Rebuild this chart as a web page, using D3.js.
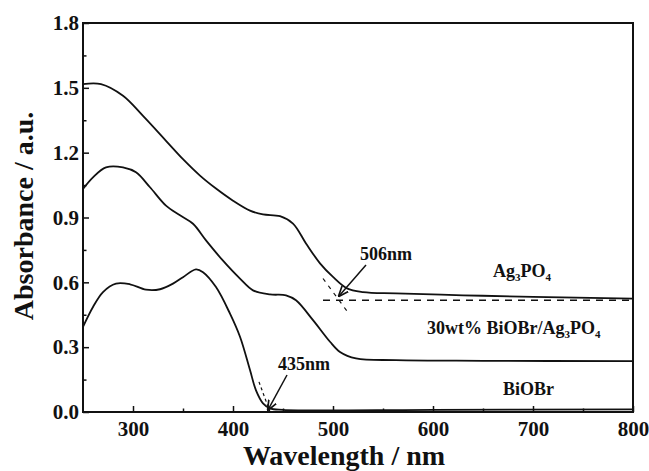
<!DOCTYPE html>
<html>
<head>
<meta charset="utf-8">
<script src="https://cdn.jsdelivr.net/npm/d3@7"></script>
<style>
  body { margin: 0; background: #fff; }
  svg text { font-family: "Liberation Serif", "Times New Roman", serif; font-weight: bold; fill: #111; }
</style>
</head>
<body>
<div id="chart"></div>
<script>
// 数据
var ag3po4Wl = [250, 268, 290, 310, 333, 350, 367, 383, 400, 417, 430, 447, 460, 473, 487, 500, 514, 530, 563, 630, 700, 800]
var ag3po4Abs = [1.517, 1.517, 1.463, 1.37, 1.255, 1.17, 1.094, 1.034, 0.978, 0.932, 0.914, 0.906, 0.872, 0.78, 0.688, 0.625, 0.572, 0.555, 0.549, 0.54, 0.533, 0.525]

var compositeWl = [250, 260, 273, 290, 303, 317, 333, 347, 360, 373, 390, 407, 420, 437, 453, 463, 480, 497, 507, 523, 563, 650, 800]
var compositeAbs = [1.032, 1.086, 1.132, 1.132, 1.109, 1.04, 0.955, 0.91, 0.871, 0.794, 0.70, 0.617, 0.563, 0.544, 0.540, 0.517, 0.425, 0.325, 0.278, 0.248, 0.24, 0.237, 0.235]

var biobrWl = [250, 260, 270, 283, 297, 313, 327, 340, 350, 363, 370, 383, 397, 407, 417, 423, 430, 437, 450, 600, 800]
var biobrAbs = [0.394, 0.486, 0.555, 0.594, 0.591, 0.566, 0.568, 0.594, 0.624, 0.66, 0.647, 0.578, 0.455, 0.348, 0.194, 0.10, 0.04, 0.017, 0.01, 0.01, 0.012]

var xTicks = [300, 400, 500, 600, 700, 800]
var yTicks = [0.0, 0.3, 0.6, 0.9, 1.2, 1.5, 1.8]

// 切线 (外推吸收边)
var edgeAg = { base: 0.517, edge: 506, slope: -0.0063, from: 490, to: 515 }
var edgeBi = { base: 0.0, edge: 435, slope: -0.0155, from: 426, to: 437 }

var width = 649, height = 471
var padding = { top: 23, left: 83, right: 16, bottom: 59 }

var svg = d3.select('#chart').append('svg')
  .attr('width', width)
  .attr('height', height)

var x = d3.scaleLinear().domain([250, 800]).range([padding.left, width - padding.right])
var y = d3.scaleLinear().domain([0, 1.8]).range([height - padding.bottom, padding.top])

// 坐标框
svg.append('rect')
  .attr('x', x(250)).attr('y', y(1.8))
  .attr('width', x(800) - x(250)).attr('height', y(0) - y(1.8))
  .attr('fill', 'none').attr('stroke', '#111').attr('stroke-width', 2)

// x 轴
var xAxis = d3.axisBottom(x).tickValues(xTicks).tickFormat(d3.format('d')).tickSizeInner(-6).tickSizeOuter(0).tickPadding(9)
var gx = svg.append('g').attr('transform', 'translate(0,' + y(0) + ')').call(xAxis)
gx.select('.domain').remove()
gx.selectAll('line').attr('stroke', '#111').attr('stroke-width', 1.5)
gx.selectAll('text').attr('font-size', 21)
var gxm = svg.append('g').attr('transform', 'translate(0,' + y(0) + ')')
  .call(d3.axisBottom(x).tickValues([350, 450, 550, 650, 750]).tickSizeInner(-3.5).tickSizeOuter(0).tickFormat(''))
gxm.select('.domain').remove()
gxm.selectAll('line').attr('stroke', '#111').attr('stroke-width', 1.5)

// y 轴
var yAxis = d3.axisLeft(y).tickValues(yTicks).tickFormat(d3.format('.1f')).tickSizeInner(-6).tickSizeOuter(0).tickPadding(4)
var gy = svg.append('g').attr('transform', 'translate(' + x(250) + ',0)').call(yAxis)
gy.select('.domain').remove()
gy.selectAll('line').attr('stroke', '#111').attr('stroke-width', 1.5)
gy.selectAll('text').attr('font-size', 21)
var gym = svg.append('g').attr('transform', 'translate(' + x(250) + ',0)')
  .call(d3.axisLeft(y).tickValues([0.15, 0.45, 0.75, 1.05, 1.35, 1.65]).tickSizeInner(-3.5).tickSizeOuter(0).tickFormat(''))
gym.select('.domain').remove()
gym.selectAll('line').attr('stroke', '#111').attr('stroke-width', 1.5)

// 轴标题
svg.append('text')
  .attr('x', 344).attr('y', 465)
  .attr('text-anchor', 'middle').attr('font-size', 28)
  .text('Wavelength / nm')
svg.append('text')
  .attr('transform', 'translate(33,' + 216 + ') rotate(-90)')
  .attr('text-anchor', 'middle').attr('font-size', 28)
  .text('Absorbance / a.u.')

// 曲线
var line = d3.line().x(function (d) { return x(d[0]) }).y(function (d) { return y(d[1]) }).curve(d3.curveCatmullRom.alpha(0.5))
var series = [
  [ag3po4Wl, ag3po4Abs],
  [compositeWl, compositeAbs],
  [biobrWl, biobrAbs]
]
series.forEach(function (s) {
  svg.append('path')
    .datum(d3.zip(s[0], s[1]))
    .attr('d', line)
    .attr('fill', 'none')
    .attr('stroke', '#111')
    .attr('stroke-width', 1.8)
})

// 虚线切线
function tangent (e) {
  return [[e.from, e.base + e.slope * (e.from - e.edge)], [e.to, e.base + e.slope * (e.to - e.edge)]]
}
var straight = d3.line().x(function (d) { return x(d[0]) }).y(function (d) { return y(Math.max(d[1], 0)) })
svg.append('path').datum([[490, edgeAg.base], [800, edgeAg.base]]).attr('d', straight)
  .attr('fill', 'none').attr('stroke', '#111').attr('stroke-width', 1.4).attr('stroke-dasharray', '7,6')
svg.append('path').datum(tangent(edgeAg)).attr('d', straight)
  .attr('fill', 'none').attr('stroke', '#111').attr('stroke-width', 1.2).attr('stroke-dasharray', '4,5')
svg.append('path').datum(tangent(edgeBi)).attr('d', straight)
  .attr('fill', 'none').attr('stroke', '#111').attr('stroke-width', 1.2).attr('stroke-dasharray', '3,3')

// 箭头
svg.append('defs').append('marker')
  .attr('id', 'arrow').attr('viewBox', '0 0 10 10').attr('refX', 9).attr('refY', 5)
  .attr('markerWidth', 7).attr('markerHeight', 7).attr('orient', 'auto')
  .append('path').attr('d', 'M0,1 L10,5 L0,9').attr('fill', 'none').attr('stroke', '#111').attr('stroke-width', 1.6)

function annotate (label, lx, ly, fromX, fromY, wl, ab) {
  svg.append('line')
    .attr('x1', fromX).attr('y1', fromY)
    .attr('x2', x(wl)).attr('y2', y(ab))
    .attr('stroke', '#111').attr('stroke-width', 1.5)
    .attr('marker-end', 'url(#arrow)')
  svg.append('text').attr('x', lx).attr('y', ly).attr('font-size', 18).text(label)
}
annotate('506nm', 360, 260, 366, 265, edgeAg.edge, edgeAg.base + 0.02)
annotate('435nm', 278, 370, 287, 375, edgeBi.edge, 0.01)

// 图例文字
function formula (tx, ty, parts) {
  var t = svg.append('text').attr('x', tx).attr('y', ty).attr('font-size', 18)
  parts.forEach(function (p) {
    t.append('tspan')
      .attr('font-size', p.sub ? 11 : 18)
      .attr('dy', p.sub ? 4 : (p.back ? -4 : 0))
      .text(p.t)
  })
}
formula(493, 277, [{ t: 'Ag' }, { t: '3', sub: true }, { t: 'PO', back: true }, { t: '4', sub: true }])
formula(427, 334, [{ t: '30wt% BiOBr/Ag' }, { t: '3', sub: true }, { t: 'PO', back: true }, { t: '4', sub: true }])
formula(503, 395, [{ t: 'BiOBr' }])
</script>
</body>
</html>
